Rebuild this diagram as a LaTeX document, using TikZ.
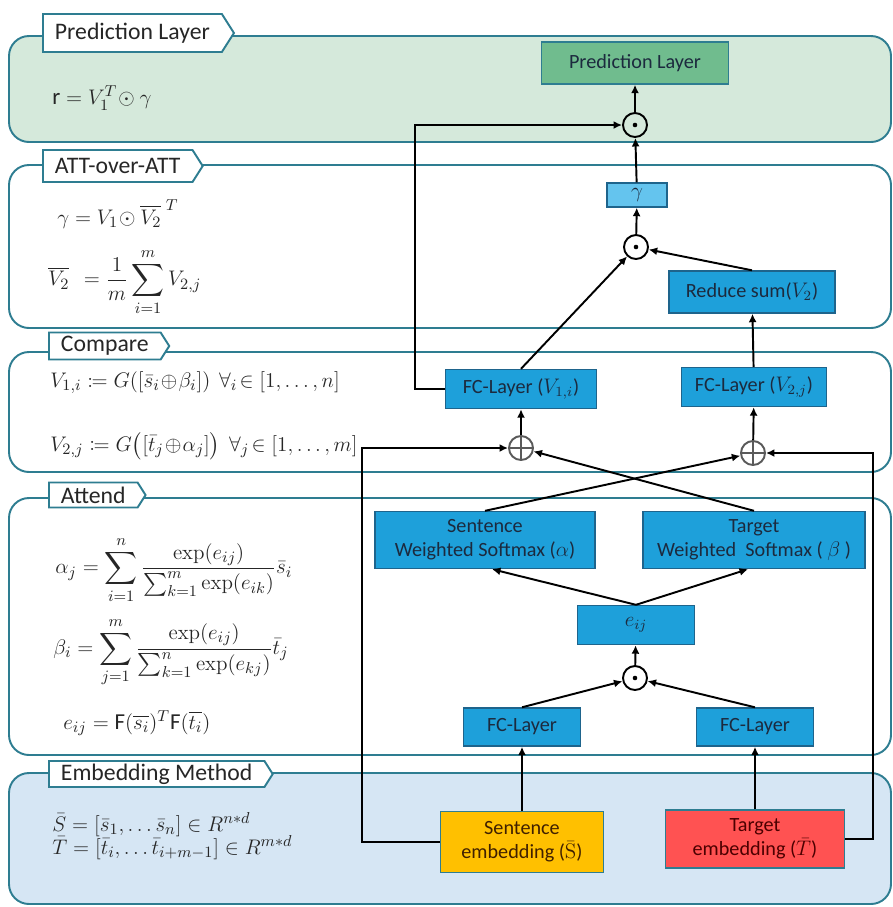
\documentclass[tikz,border=0pt]{standalone}
\usepackage{amsmath,amssymb,mathtools}
\usepackage[no-math]{fontspec}
\setmainfont{Carlito}
\usepackage{tikz}
\usetikzlibrary{arrows.meta,positioning,shapes.symbols}
\definecolor{panelteal}{RGB}{46,125,145}
\definecolor{predfill}{RGB}{213,233,219}
\definecolor{embfill}{RGB}{214,230,244}
\definecolor{cellblue}{RGB}{30,160,218}
\definecolor{cellborder}{RGB}{30,100,140}
\definecolor{gammablue}{RGB}{100,196,238}
\definecolor{predgreen}{RGB}{112,188,142}
\definecolor{sentorange}{RGB}{255,192,0}
\definecolor{targred}{RGB}{255,82,82}
\definecolor{inktext}{RGB}{28,42,62}
\definecolor{opgrey}{RGB}{90,90,90}
\tikzset{
  base/.style={font=\fontsize{11.5}{13.5}\selectfont, align=center, inner sep=2pt, text=inktext},
  cell/.style={base, rectangle, draw=cellborder, fill=cellblue, line width=0.8pt},
  gammacell/.style={cell, fill=gammablue},
  predcell/.style={cell, draw=panelteal, fill=predgreen},
  sentcell/.style={cell, draw=panelteal, fill=sentorange, text=black!75!orange},
  targcell/.style={cell, draw=panelteal, fill=targred, text=black!70!red},
  plane/.style={rectangle, rounded corners=0.4cm, draw=panelteal, fill=#1, line width=1.1pt},
  tab/.style={signal, signal to=east, signal pointer angle=115, draw=panelteal, fill=white,
    line width=1.1pt, anchor=west, inner xsep=0.24cm, inner ysep=0pt,
    font=\fontsize{13.5}{15}\selectfont, text=black!85},
  eqn/.style={anchor=west, inner sep=0pt, font=\fontsize{13}{15}\selectfont, text=black!85},
  arr/.style={-{Latex[length=1.7mm,width=1.6mm]}, line width=1.1pt},
  op/.style={circle, draw, line width=1.1pt, minimum size=0.48cm, inner sep=0pt},
  odot/.style={op, path picture={\fill (path picture bounding box.center) circle (1.3pt);}},
  oplus/.style={op, draw=opgrey, path picture={\draw[opgrey, line width=1pt]
    (path picture bounding box.north) -- (path picture bounding box.south)
    (path picture bounding box.west) -- (path picture bounding box.east);}},
}
\begin{document}
\begin{tikzpicture}[x=0.02cm, y=-0.02cm]
  \useasboundingbox (0,0) rectangle (893,907);
  % layer panels
  \draw[plane=predfill] (9,36) rectangle (891,142);
  \draw[plane=white] (9,165) rectangle (891,328);
  \draw[plane=white] (9,352) rectangle (891,472);
  \draw[plane=white] (9,498) rectangle (891,755);
  \draw[plane=embfill] (9,773) rectangle (891,904);
  \node[tab, minimum height=0.76cm] (tabpred) at (42,33) {Prediction Layer};
  \node[tab, minimum height=0.64cm] (tabatt) at (42,166) {ATT-over-ATT};
  \node[tab, minimum height=0.54cm] (tabcmp) at (48,346) {Compare};
  \node[tab, minimum height=0.5cm] (tabatd) at (48,495) {Attend};
  \node[tab, minimum height=0.52cm] (tabemb) at (48,774) {Embedding Method};
  % equations
  \node[eqn] (eqpred) at (52,98) {$\text{r} = V_1^T\!\odot\gamma$};
  \node[eqn] (eqgam) at (57,214) {$\gamma = V_1\!\odot\overline{V_2}^{\;T}$};
  \node[eqn] (eqvbar) at (48,282) {$\displaystyle \overline{V_2}\ \,= \frac{1}{m}\sum_{i=1}^{m} V_{2,j}$};
  \node[eqn] (eqva) at (50,383) {$V_{1,i} \coloneqq G([\bar{s}_i\!\oplus\!\beta_i])\ \,\forall_i\!\in[1,\dots,n]$};
  \node[eqn] (eqvb) at (50,446) {$V_{2,j} \coloneqq G\bigl([\bar{t}_j\!\oplus\!\alpha_j]\bigr)\ \,\forall_j\!\in[1,\dots,m]$};
  \node[eqn] (eqalpha) at (55,570) {$\displaystyle \alpha_j = \sum_{i=1}^{n}\frac{\exp(e_{ij})}{\sum_{k=1}^{m}\exp(e_{ik})}\bar{s}_i$};
  \node[eqn] (eqbeta) at (53,652) {$\displaystyle \beta_i = \sum_{j=1}^{m}\frac{\exp(e_{ij})}{\sum_{k=1}^{n}\exp(e_{kj})}\bar{t}_j$};
  \node[eqn] (eqe) at (63,723) {$e_{ij} = \text{F}(\overline{s_i})^T\text{F}(\overline{t_i})$};
  \node[eqn, align=left] (eqemb) at (52,836) {$\bar{S} = [\bar{s}_1, \dots \bar{s}_n] \in R^{n*d}$\\[-2pt]
    $\bar{T} = [\bar{t}_i, \dots \bar{t}_{i+m-1}] \in R^{m*d}$};
  % network
  \node[predcell, minimum width=3.74cm, minimum height=0.84cm] (pred) at (635,63) {Prediction Layer};
  \node[odot] (dottop) at (635,125) {};
  \node[gammacell, minimum width=1.2cm, minimum height=0.48cm] (gam) at (637,195) {$\gamma$};
  \node[odot] (dotmid) at (636,247) {};
  \node[cell, minimum width=3.32cm, minimum height=0.84cm] (rsum) at (752,292) {Reduce sum($V_2$)};
  \node[cell, minimum width=3.02cm, minimum height=0.78cm] (fca) at (521,389) {FC-Layer ($V_{1,i}$)};
  \node[cell, minimum width=2.9cm, minimum height=0.78cm] (fcb) at (754,387) {FC-Layer ($V_{2,j}$)};
  \node[oplus] (plusl) at (521,448) {};
  \node[oplus] (plusr) at (753,453) {};
  \node[cell, minimum width=4.4cm, minimum height=1.14cm] (smsent) at (485,540) {Sentence\\Weighted Softmax ($\alpha$)};
  \node[cell, minimum width=4.44cm, minimum height=1.14cm] (smtarg) at (754,540) {Target\\Weighted\ \ Softmax ( $\beta$ )};
  \node[cell, minimum width=2.34cm, minimum height=0.78cm] (eij) at (636,625) {$e_{ij}$};
  \node[odot] (dotbot) at (635,678) {};
  \node[cell, minimum width=2.34cm, minimum height=0.76cm] (fcl) at (522,727) {FC-Layer};
  \node[cell, minimum width=2.34cm, minimum height=0.76cm] (fcr) at (755,727) {FC-Layer};
  \node[sentcell, minimum width=3.26cm, minimum height=1.22cm] (embs) at (522,842) {Sentence\\embedding ($\bar{\mathrm{S}}$)};
  \node[targcell, minimum width=3.58cm, minimum height=1.16cm] (embt) at (755,839) {Target\\embedding ($\bar{T}$)};
  \foreach \a/\b in {embs/fcl,embt/fcr,dotbot/eij,plusl/fca,plusr/fcb,fcb/rsum,dotmid/gam,gam/dottop,dottop/pred}{\draw[arr] (\a) -- (\b);}
  \foreach \a/\b in {fcl/dotbot,fcr/dotbot,smtarg/plusl,smsent/plusr,fca/dotmid,rsum/dotmid}{\draw[arr] (\a.north) -- (\b);}
  \draw[arr] (eij.north) -- ([xshift=0.14cm]smsent.south);
  \draw[arr] (eij.north) -- ([xshift=-0.12cm]smtarg.south);
  \draw[arr] (embs.west) -- (362,842) |- (plusl.west);
  \draw[arr] (embt.east) -- (873,839) |- (plusr.east);
  \draw[arr] (fca.west) -- (415,389) |- (dottop.west);
\end{tikzpicture}
\end{document}
